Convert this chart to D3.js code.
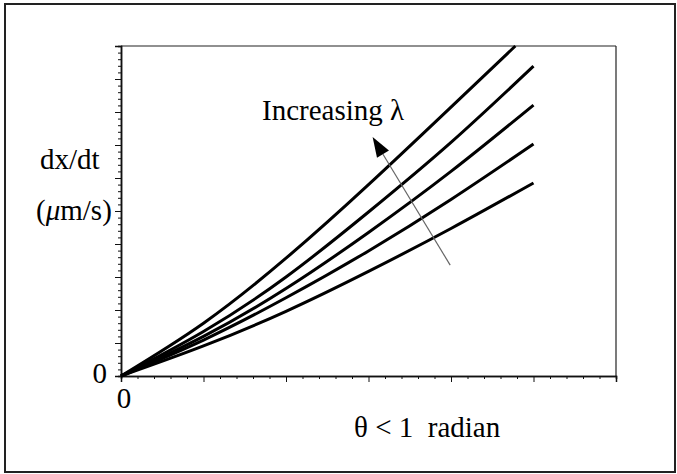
<!DOCTYPE html>
<html><head><meta charset="utf-8">
<script src="https://cdn.jsdelivr.net/npm/d3@7"></script>
<style>
html,body{margin:0;padding:0;background:#fff;}
text{font-family:"Liberation Serif","Times New Roman",serif;fill:#000;white-space:pre;}
</style></head>
<body><svg id="chart" width="677" height="474"></svg>
<script>
// Data (x in axis units 0..6, y in axis units 0..10)
const xValues = [0, 1, 2, 3, 4, 5];
const curve1 = [0, 0.91, 1.96, 3.17, 4.47, 5.85];   // smallest λ
const curve2 = [0, 1.09, 2.37, 3.79, 5.35, 7.03];
const curve3 = [0, 1.20, 2.65, 4.35, 6.20, 8.21];
const curve4 = [0, 1.35, 3.00, 4.97, 7.08, 9.39];
const curve5x = [0, 1, 2, 3, 4, 4.78];
const curve5 = [0, 1.60, 3.57, 5.80, 8.15, 10.0];  // largest λ
const xMajorTicks = [0, 1, 2, 3, 4, 5, 6];
const yMajorTicks = [0, 1, 2, 3, 4, 5, 6, 7, 8, 9, 10];
const arrowTail = [3.99, 3.36];
const arrowTip = [3.05, 7.24];
const annotLabel = "Increasing λ";

const svg = d3.select("#chart");
const x = d3.scaleLinear().domain([0, 6]).range([121, 616]);
const y = d3.scaleLinear().domain([0, 10]).range([376, 46]);

// outer frame
svg.append("rect").attr("x", 5).attr("y", 4).attr("width", 670).attr("height", 468)
  .attr("fill", "none").attr("stroke", "#222").attr("stroke-width", 2);

// plot box top/right
svg.append("line").attr("x1", x(0)).attr("x2", x(6)).attr("y1", y(10)).attr("y2", y(10)).attr("stroke", "#222").attr("stroke-width", 1.2);
svg.append("line").attr("x1", x(6)).attr("x2", x(6)).attr("y1", y(10)).attr("y2", y(0)).attr("stroke", "#222").attr("stroke-width", 1.2);

// minor ticks
const xMinor = d3.range(0, 30).map(i => i * 0.2).filter(v => Math.abs(v - Math.round(v)) > 1e-6);
const yMinor = d3.range(0, 50).map(i => i * 0.2).filter(v => Math.abs(v - Math.round(v)) > 1e-6);

const xAxis = svg.append("g").attr("transform", `translate(0,${y(0)})`)
  .call(d3.axisBottom(x).tickValues(xMajorTicks).tickSize(6).tickFormat(""));
const xAxisMinor = svg.append("g").attr("transform", `translate(0,${y(0)})`)
  .call(d3.axisBottom(x).tickValues(xMinor).tickSize(3).tickFormat(""));
const yAxis = svg.append("g").attr("transform", `translate(${x(0)},0)`)
  .call(d3.axisLeft(y).tickValues(yMajorTicks).tickSize(6).tickFormat(""));
const yAxisMinor = svg.append("g").attr("transform", `translate(${x(0)},0)`)
  .call(d3.axisLeft(y).tickValues(yMinor).tickSize(3).tickFormat(""));
[xAxis, xAxisMinor, yAxis, yAxisMinor].forEach(g => {
  g.selectAll("path").attr("stroke", "#111").attr("stroke-width", 1.5);
  g.selectAll("line").attr("stroke", "#111").attr("stroke-width", 1);
});

// curves
const line = d3.line().x(d => x(d[0])).y(d => y(d[1])).curve(d3.curveNatural);
const series = [
  xValues.map((v, i) => [v, curve1[i]]),
  xValues.map((v, i) => [v, curve2[i]]),
  xValues.map((v, i) => [v, curve3[i]]),
  xValues.map((v, i) => [v, curve4[i]]),
  curve5x.map((v, i) => [v, curve5[i]])
];
svg.append("g").selectAll("path").data(series).join("path")
  .attr("d", line).attr("fill", "none").attr("stroke", "#000").attr("stroke-width", 3);

// arrow
const dx = x(arrowTip[0]) - x(arrowTail[0]), dy = y(arrowTip[1]) - y(arrowTail[1]);
const len = Math.hypot(dx, dy), ux = dx / len, uy = dy / len;
const headLen = 20, headW = 7;
const bx = x(arrowTip[0]) - ux * headLen, by = y(arrowTip[1]) - uy * headLen;
svg.append("line").attr("x1", x(arrowTail[0])).attr("y1", y(arrowTail[1]))
  .attr("x2", bx).attr("y2", by).attr("stroke", "#666").attr("stroke-width", 1.2);
svg.append("path")
  .attr("d", `M${x(arrowTip[0])},${y(arrowTip[1])} L${bx - uy * headW},${by + ux * headW} L${bx + uy * headW},${by - ux * headW} Z`)
  .attr("fill", "#000");

// texts
const fs = 29;
svg.append("text").attr("x", x(1.71)).attr("y", y(7.76)).attr("font-size", fs).text(annotLabel);
svg.append("text").attr("x", 40).attr("y", 169).attr("font-size", fs).text("dx/dt");
const t2 = svg.append("text").attr("x", 36).attr("y", 220).attr("font-size", fs);
t2.append("tspan").text("(");
t2.append("tspan").attr("font-style", "italic").text("μ");
t2.append("tspan").text("m/s)");
svg.append("text").attr("x", 107).attr("y", 383).attr("text-anchor", "end").attr("font-size", fs).text("0");
svg.append("text").attr("x", 124).attr("y", 408).attr("text-anchor", "middle").attr("font-size", fs).text("0");
svg.append("text").attr("x", 354).attr("y", 437).attr("font-size", fs).text("θ < 1  radian");
</script></body></html>
